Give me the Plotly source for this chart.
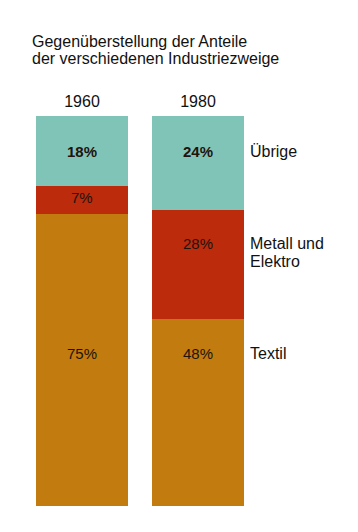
import plotly.graph_objects as go

years = ["1960", "1980"]
textil = [75, 48]
metall = [7, 28]
uebrige = [18, 24]
series_names = ["Textil", "Metall und<br>Elektro", "Übrige"]
colors = ["#C27B0E", "#BD2B0D", "#80C4B8"]

title_lines = ["Gegenüberstellung der Anteile", "der verschiedenen Industriezweige"]

FONT = "Liberation Sans, Arial, Helvetica, sans-serif"

# page body has an 8px margin; the figure is sized to fit the window
W, H = 350, 524
L, R, T, B = 16, 102, 108, 26
PH = H - T - B  # plot height in px

fig = go.Figure()
for vals, name, col in zip([textil, metall, uebrige], series_names, colors):
    fig.add_trace(go.Bar(x=years, y=vals, name=name, marker=dict(color=col, line=dict(width=0)),
                         width=0.785, hoverinfo="skip"))

# label rows (data-unit y positions of the text rows)
row_top = 90.8
row_mid = 67.2
row_low = 39.2
row_small = 79.0

ann = [
    (0, row_top, f"<b>{uebrige[0]}%</b>"),
    (0, row_small, f"{metall[0]}%"),
    (0, row_low, f"{textil[0]}%"),
    (1, row_top, f"<b>{uebrige[1]}%</b>"),
    (1, row_mid, f"{metall[1]}%"),
    (1, row_low, f"{textil[1]}%"),
]

annotations = []
for xi, yv, txt in ann:
    annotations.append(dict(x=xi, y=yv, xref="x", yref="y", text=txt, showarrow=False,
                            font=dict(family=FONT, size=15, color="#1e130d"),
                            xanchor="center", yanchor="middle"))

# series names at right (multi-line names set with tighter line spacing)
for name, yv in zip(series_names, [row_low, 65.1, 91.0]):
    parts = name.split("<br>")
    n = len(parts)
    for k, part in enumerate(parts):
        annotations.append(dict(x=1.0, y=yv, xref="paper", yref="y", text=part, showarrow=False,
                                xshift=-8, yshift=-(k - (n - 1) / 2) * 18,
                                font=dict(family=FONT, size=16, color="#111111"),
                                xanchor="left", yanchor="middle"))

# title lines (pixel positions converted to paper coordinates)
for i, line in enumerate(title_lines):
    px, py = 22, 33 + 17 * i
    annotations.append(dict(x=(px - L) / (W - L - R), y=(H - py - B) / PH,
                            xref="paper", yref="paper", text=line,
                            showarrow=False, font=dict(family=FONT, size=16, color="#111111"),
                            xanchor="left", yanchor="middle"))

fig.update_layout(
    width=W, height=H,
    margin=dict(l=L, r=R, t=T, b=B),
    barmode="stack",
    showlegend=False,
    plot_bgcolor="white",
    paper_bgcolor="white",
    annotations=annotations,
    xaxis=dict(type="category", range=[-0.5, 1.5], side="top", showgrid=False, zeroline=False,
               showline=False, ticks="", tickfont=dict(family=FONT, size=16, color="#111111"),
               ticklabelstandoff=5),
    yaxis=dict(range=[0, 100], visible=False, showgrid=False, zeroline=False),
)

fig.write_html("out.html")
